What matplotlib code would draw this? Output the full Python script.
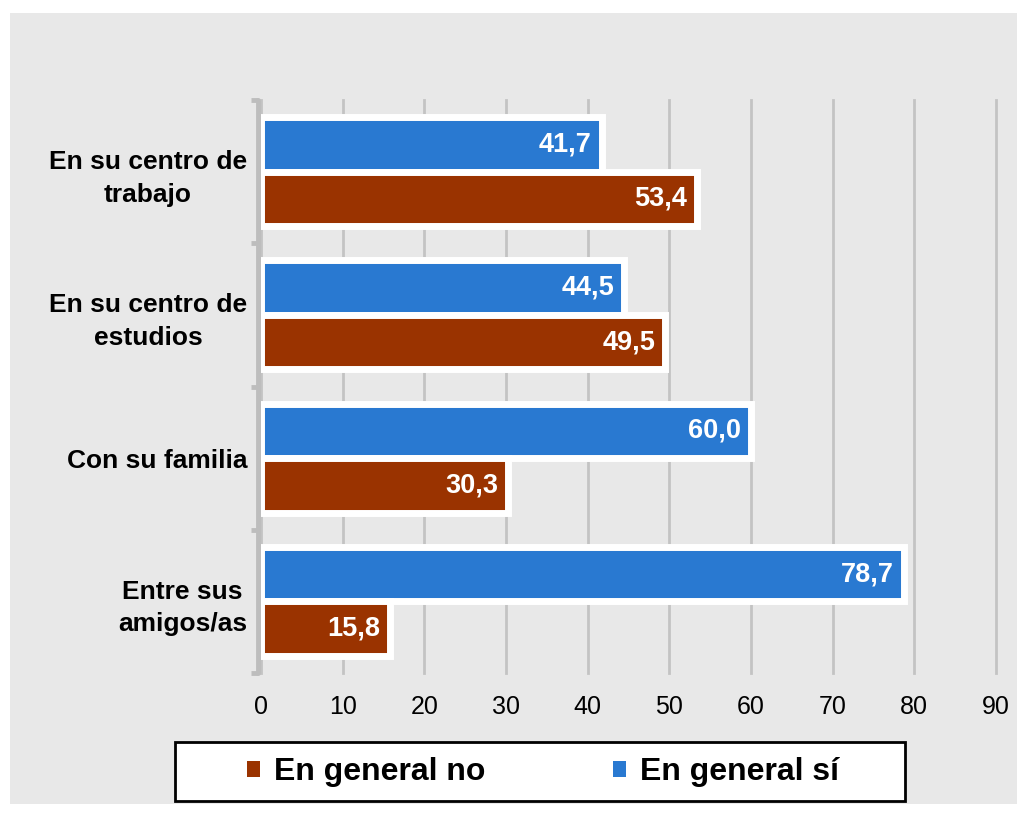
import matplotlib
matplotlib.use("Agg")
import matplotlib.pyplot as plt
from matplotlib.patches import Rectangle, Patch
import numpy as np

categories = ["En su centro de\ntrabajo", "En su centro de\nestudios", "Con su familia", "Entre sus\namigos/as"]
si_values = [41.7, 44.5, 60.0, 78.7]
no_values = [53.4, 49.5, 30.3, 15.8]
series_names = ["En general no", "En general sí"]
xticks = [0, 10, 20, 30, 40, 50, 60, 70, 80, 90]

BLUE = "#2979d1"
BROWN = "#9a3300"
BG = "#e8e8e8"
GRID = "#c3c3c3"
SPINE = "#bdbdbd"

plt.rcParams['font.family'] = ['Liberation Sans', 'DejaVu Sans']

W, H = 1027, 814
fig = plt.figure(figsize=(W / 100, H / 100), dpi=100)
fig.patch.set_facecolor("white")
fig.patches.append(Rectangle((10 / W, 1 - 804 / H), (1017 - 10) / W, (804 - 13) / H,
                             transform=fig.transFigure, facecolor=BG, edgecolor="none", zorder=-2))
# legend box
fig.patches.append(Rectangle((175 / W, 1 - 801 / H), (905 - 175) / W, (801 - 742) / H,
                             transform=fig.transFigure, facecolor="white", edgecolor="black",
                             linewidth=2, zorder=-1))

ax = fig.add_axes([261 / W, 1 - 673 / H, (996 - 261) / W, (673 - 100) / H])
ax.patch.set_alpha(0)

for s in ("top", "right", "bottom"):
    ax.spines[s].set_visible(False)
ax.spines["left"].set_position(("outward", 2))
ax.spines["left"].set_color(SPINE)
ax.spines["left"].set_linewidth(3.5)
ax.spines["left"].set_capstyle("round")

n = len(categories)
ypos = np.arange(n)[::-1]  # top to bottom
h = 0.38
off = 0.19

bars_si = ax.barh(ypos + off, si_values, height=h, color=BLUE, edgecolor="white",
                  linewidth=5, zorder=3, label=series_names[1])
bars_no = ax.barh(ypos - off, no_values, height=h, color=BROWN, edgecolor="white",
                  linewidth=5, zorder=3, label=series_names[0])

for bars, vals in ((bars_si, si_values), (bars_no, no_values)):
    for b, v in zip(bars, vals):
        ax.annotate(f"{v:.1f}".replace(".", ","), xy=(v, b.get_y() + b.get_height() / 2),
                    xytext=(-7, 0), textcoords="offset points", ha="right", va="center",
                    color="white", fontsize=19.5, fontweight="bold", zorder=4)

ax.set_xlim(0, 90)
ax.set_ylim(-0.5, n - 0.5)
ax.set_xticks(xticks)
ax.set_xticklabels([str(t) for t in xticks], fontsize=18)
ax.tick_params(axis="x", length=0, pad=16)
ax.xaxis.grid(True, color=GRID, linewidth=2, zorder=1)
for gl in ax.get_xgridlines():
    gl.set_clip_on(False)
ax.set_axisbelow(True)

ax.set_yticks(ypos)
ax.set_yticklabels(categories, fontsize=19, fontweight="bold", multialignment="center",
                   linespacing=1.45)
ax.set_yticks(np.arange(-0.5, n, 1.0), minor=True)
ax.tick_params(axis="y", which="major", length=0, pad=8)
ax.tick_params(axis="y", which="minor", length=5, width=3.5, color=SPINE, direction="out")

handles = [Patch(facecolor=BROWN, edgecolor="none"), Patch(facecolor=BLUE, edgecolor="none")]
leg = fig.legend(handles, series_names, loc="center",
                 bbox_to_anchor=(543 / W, 1 - 772 / H),
                 ncol=2, frameon=False,
                 handlelength=0.4, handleheight=0.4, handletextpad=0.45,
                 columnspacing=4.0, borderaxespad=0, borderpad=0,
                 prop={"size": 23, "weight": "bold"})

fig.savefig("out.png", dpi=100, facecolor="white")
